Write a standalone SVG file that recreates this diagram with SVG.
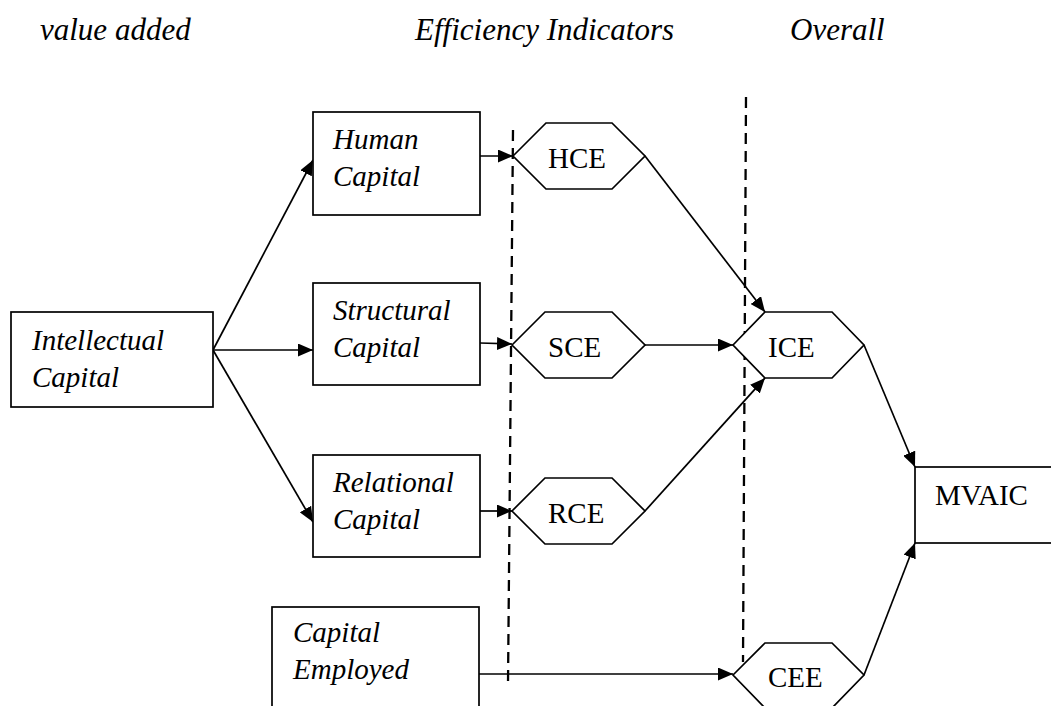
<svg xmlns="http://www.w3.org/2000/svg" width="1051" height="706" viewBox="0 0 1051 706">
  <style>
    .box { fill: #fff; stroke: #000; stroke-width: 1.7; }
    .hex { fill: #fff; stroke: #000; stroke-width: 1.7; stroke-linejoin: miter; }
    .edge { fill: none; stroke: #000; stroke-width: 1.7; marker-end: url(#arrow); }
    .divider { fill: none; stroke: #000; stroke-width: 2.3; stroke-dasharray: 11 7; }
    .head { font-family: "Liberation Serif", "Times New Roman", serif; font-style: italic; font-size: 31px; fill: #000; }
    .lbl { font-family: "Liberation Serif", "Times New Roman", serif; font-style: italic; font-size: 29px; fill: #000; }
    .code { font-family: "Liberation Serif", "Times New Roman", serif; font-size: 29px; fill: #000; }
  </style>
  <defs>
    <marker id="arrow" viewBox="0 0 15 13" refX="15" refY="6.5" markerWidth="15" markerHeight="13" markerUnits="userSpaceOnUse" orient="auto">
      <path d="M0,0 L15,6.5 L0,13 Z" fill="#000"/>
    </marker>
  </defs>
  <rect width="1051" height="706" fill="#fff"/>

  <!-- column headings -->
  <g id="headings">
    <text class="head" x="40" y="40">value added</text>
    <text class="head" x="415" y="40">Efficiency Indicators</text>
    <text class="head" x="790" y="40">Overall</text>
  </g>

  <!-- dashed column separators -->
  <g id="dividers">
    <line class="divider" x1="513" y1="130" x2="508" y2="684"/>
    <line class="divider" x1="746" y1="97" x2="743" y2="662"/>
  </g>

  <!-- connectors -->
  <g id="connectors">
    <line class="edge" x1="213" y1="350" x2="313" y2="160"/>
    <line class="edge" x1="213" y1="350" x2="313" y2="350"/>
    <line class="edge" x1="213" y1="350" x2="313" y2="522"/>
    <line class="edge" x1="480" y1="156" x2="513" y2="156"/>
    <line class="edge" x1="480" y1="343" x2="512" y2="344"/>
    <line class="edge" x1="480" y1="511" x2="512" y2="511"/>
    <line class="edge" x1="645" y1="156" x2="765" y2="312"/>
    <line class="edge" x1="645" y1="345" x2="733" y2="345"/>
    <line class="edge" x1="645" y1="511" x2="765" y2="378"/>
    <line class="edge" x1="864" y1="345" x2="915" y2="467"/>
    <line class="edge" x1="479" y1="674" x2="733" y2="674"/>
    <line class="edge" x1="864" y1="675" x2="915" y2="543"/>
  </g>

  <g id="intellectual-capital">
    <rect class="box" x="11" y="312" width="202" height="95"/>
    <text class="lbl" x="32" y="350">Intellectual</text>
    <text class="lbl" x="32" y="387">Capital</text>
  </g>

  <g id="human-capital">
    <rect class="box" x="313" y="112" width="167" height="103"/>
    <text class="lbl" x="333" y="149">Human</text>
    <text class="lbl" x="333" y="186">Capital</text>
  </g>

  <g id="structural-capital">
    <rect class="box" x="313" y="283" width="167" height="102"/>
    <text class="lbl" x="333" y="320">Structural</text>
    <text class="lbl" x="333" y="357">Capital</text>
  </g>

  <g id="relational-capital">
    <rect class="box" x="313" y="455" width="167" height="102"/>
    <text class="lbl" x="333" y="492">Relational</text>
    <text class="lbl" x="333" y="529">Capital</text>
  </g>

  <g id="capital-employed">
    <rect class="box" x="272" y="607" width="207" height="150"/>
    <text class="lbl" x="293" y="642">Capital</text>
    <text class="lbl" x="293" y="679">Employed</text>
  </g>

  <g id="hce">
    <polygon class="hex" points="513,156 546,123 612,123 645,156 612,189 546,189"/>
    <text class="code" x="548" y="168">HCE</text>
  </g>

  <g id="sce">
    <polygon class="hex" points="512,345 545,312 612,312 645,345 612,378 545,378"/>
    <text class="code" x="548" y="357">SCE</text>
  </g>

  <g id="rce">
    <polygon class="hex" points="512,511 545,478 612,478 645,511 612,544 545,544"/>
    <text class="code" x="548" y="523">RCE</text>
  </g>

  <g id="ice">
    <polygon class="hex" points="733,345 765,312 832,312 864,345 832,378 765,378"/>
    <text class="code" x="768" y="357">ICE</text>
  </g>

  <g id="cee">
    <polygon class="hex" points="733,675 765,643 832,643 864,675 832,708 765,708"/>
    <text class="code" x="768" y="687">CEE</text>
  </g>

  <g id="mvaic">
    <rect class="box" x="915" y="467" width="200" height="76"/>
    <text class="code" x="935" y="505">MVAIC</text>
  </g>
</svg>
